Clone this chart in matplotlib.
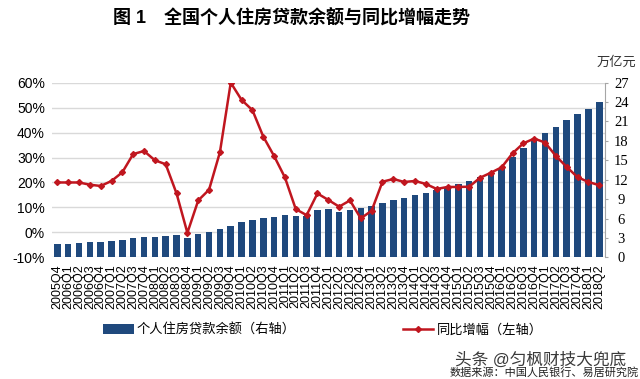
import matplotlib
matplotlib.use('Agg')
import numpy as np
import matplotlib.pyplot as plt

plt.rcParams['font.family'] = ['Liberation Sans', 'Noto Sans CJK SC']

# quarter labels 2005Q4 .. 2018Q2
quarters = ['2005Q4'] + [f'{y}Q{q}' for y in range(2006, 2018) for q in range(1, 5)] + ['2018Q1', '2018Q2']

# 个人住房贷款余额 (万亿元, right axis)
balance = [2.0, 2.1, 2.2, 2.3, 2.4, 2.5, 2.7, 2.95, 3.1, 3.2,
           3.35, 3.4, 3.05, 3.6, 3.9, 4.4, 4.8, 5.4, 5.8, 6.1,
           6.3, 6.6, 6.4, 6.45, 7.25, 7.4, 7.0, 7.3, 7.6, 8.0,
           8.4, 8.8, 9.1, 9.6, 10.0, 10.45, 10.75, 11.3, 11.8, 12.4,
           13.0, 13.8, 15.5, 16.9, 18.0, 19.25, 20.2, 21.2, 22.1, 23.0, 23.95]

# 同比增幅 (%, left axis)
growth = [20.0, 20.0, 20.0, 19.1, 18.6, 20.6, 24.1, 31.4, 32.6, 28.9,
          27.3, 15.6, -0.2, 12.8, 17.1, 32.1, 60.0, 53.1, 49.0, 38.4,
          30.6, 22.0, 9.3, 6.9, 15.6, 13.0, 10.3, 12.8, 5.6, 8.7,
          20.3, 21.4, 20.2, 20.6, 19.4, 17.4, 18.2, 18.2, 18.3, 21.9,
          23.9, 26.1, 31.7, 35.7, 37.6, 36.0, 30.6, 26.2, 22.1, 20.2, 18.9]

left_ticks = [-10, 0, 10, 20, 30, 40, 50, 60]
right_ticks = [0, 3, 6, 9, 12, 15, 18, 21, 24, 27]

bar_color = '#1f497d'
line_color = '#c0161f'

x = np.arange(len(quarters))

fig = plt.figure(figsize=(6.4, 3.79), dpi=100)
ax = fig.add_axes([0.0811, 0.3211, 0.8637, 0.4607])

# back axis: gridlines + left ticks
ax.set_xlim(-0.5, len(quarters) - 0.5)
ax.set_ylim(-10, 60)
ax.set_yticks(left_ticks)
ax.set_yticklabels([f'{t}%' for t in left_ticks], fontsize=10)
ax.yaxis.grid(True, color='#d9d9d9', lw=1)
ax.set_axisbelow(True)
ax.tick_params(axis='y', length=0, pad=5)
ax.set_xticks(x)
ax.set_xticklabels(quarters, rotation=90, fontsize=9)
ax.tick_params(axis='x', length=0, pad=5)
for s in ax.spines.values():
    s.set_visible(False)

# bars on right axis
ax2 = ax.twinx()
bars = ax2.bar(x, balance, width=0.6, color=bar_color)
ax2.set_ylim(0, 27)
ax2.set_yticks(right_ticks)
ax2.set_yticklabels([str(t) for t in right_ticks], fontsize=10.5, family='Liberation Serif')
ax2.tick_params(axis='y', length=2.5, color='#a6a6a6', pad=9.5)
for lab in ax2.get_yticklabels():
    lab.set_ha('center')
for k, s in ax2.spines.items():
    s.set_visible(k == 'right')
ax2.spines['right'].set_color('#a6a6a6')

# line on top, left scale
ax3 = ax.twinx()
ax3.set_ylim(-10, 60)
line, = ax3.plot(x, growth, color=line_color, lw=1.8, marker='D', markersize=3)
ax3.set_yticks([])
for s in ax3.spines.values():
    s.set_visible(False)

fig.text(113 / 640, 1 - 18.3 / 379, '图 1　全国个人住房贷款余额与同比增幅走势',
         ha='left', va='center', fontsize=13, fontweight='bold')
fig.text(636 / 640, 1 - 63 / 379, '万亿元', ha='right', va='center', fontsize=9.5, color='#333333')

fig.legend([bars, line], ['个人住房贷款余额（右轴）', '同比增幅（左轴）'],
           loc='center left', bbox_to_anchor=(103.3 / 640, 1 - 330 / 379), ncol=2,
           frameon=False, fontsize=9.5, handlelength=2.3, handletextpad=0.25,
           columnspacing=8.1, borderpad=0, borderaxespad=0)

fig.text(626 / 640, 1 - 360 / 379, '头条 @匀枫财技大兜底', ha='right', va='center',
         fontsize=12, color='#3a3a3a')
fig.text(639 / 640, 1 - 372 / 379, '数据来源：中国人民银行、易居研究院', ha='right', va='center',
         fontsize=8, color='#222222')

fig.savefig('out.png', dpi=100)
